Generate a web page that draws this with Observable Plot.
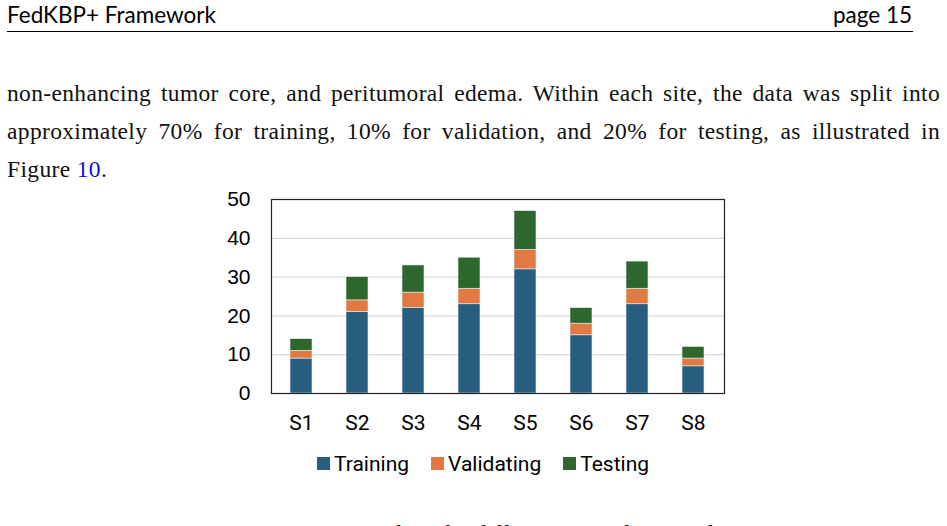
<!DOCTYPE html>
<html>
<head>
<meta charset="utf-8">
<script src="https://cdn.jsdelivr.net/npm/d3@7"></script>
<script src="https://cdn.jsdelivr.net/npm/@observablehq/plot@0.6"></script>
<style>
  html, body { margin: 0; padding: 0; background: #fff; }
  body { width: 947px; height: 526px; position: relative; overflow: hidden; }
  .hdr { position: absolute; top: 1px; font-family: "Lato", sans-serif; font-size: 22.5px; color: #000; line-height: 28px; }
  .rule { position: absolute; left: 7px; top: 31px; width: 906px; height: 1px; background: #000; }
  .para { position: absolute; left: 7px; width: 933px; font-family: "Liberation Serif", serif; font-size: 23.5px; letter-spacing: 0.35px; color: #111; line-height: 38px; }
  .para .l { text-align: justify; text-align-last: justify; white-space: nowrap; height: 38px; }
  .para .last { text-align: left; text-align-last: left; }
  .para a { color: #1010e0; text-decoration: none; }
  #chart { position: absolute; left: 0; top: 180px; }
  #legend { position: absolute; top: 447px; left: 0; width: 988px; display: flex; justify-content: center; }
  .lg-swatch { margin-right: 22px !important; font-family: "Roboto", sans-serif; font-size: 21px !important; color: #000; }
  .lg-swatch svg { margin-right: 4px !important; }
  .cap { position: absolute; top: 518px; left: 0; width: 947px; text-align: center; font-family: "Liberation Serif", serif; font-size: 23.5px; line-height: 30px; color: #111; }
</style>
</head>
<body>
<div class="hdr" style="left:7px;">FedKBP+ Framework</div>
<div class="hdr" style="right:35px;">page 15</div>
<div class="rule"></div>
<div class="para" style="top:74px;">
  <div class="l">non-enhancing tumor core, and peritumoral edema. Within each site, the data was split into</div>
  <div class="l">approximately 70% for training, 10% for validation, and 20% for testing, as illustrated in</div>
  <div class="l last">Figure <a>10</a>.</div>
</div>
<div id="chart"></div>
<div id="legend"></div>
<div class="cap">Figure 10: Case numbers for different sites of BraTS data.</div>
<script>
const sites = ["S1", "S2", "S3", "S4", "S5", "S6", "S7", "S8"];
const types = ["Training", "Validating", "Testing"];
const colors = ["#255e7e", "#e07a42", "#2e672d"];
const training = [9, 21, 22, 23, 32, 15, 23, 7];
const validating = [2, 3, 4, 4, 5, 3, 4, 2];
const testing = [3, 6, 7, 8, 10, 4, 7, 3];
const yTicks = [0, 10, 20, 30, 40, 50];
const gridTicks = [10, 20, 30, 40];

const series = [training, validating, testing];
const data = [];
sites.forEach((s, i) => {
  types.forEach((t, j) => data.push({site: s, type: t, value: series[j][i]}));
});

const plot = Plot.plot({
  width: 947,
  height: 260,
  marginLeft: 271,
  marginRight: 223,
  marginTop: 19,
  marginBottom: 47,
  x: {domain: sites, paddingInner: 0.6, paddingOuter: 0.3, label: null, tickSize: 0, tickPadding: 22},
  y: {domain: [0, 50], ticks: yTicks, label: null, tickSize: 0, tickPadding: 21},
  color: {domain: types, range: colors},
  style: {background: "transparent", overflow: "visible"},
  marks: [
    Plot.gridY(gridTicks, {stroke: "#d9d9d9", strokeOpacity: 1, strokeWidth: 1.2}),
    Plot.barY(data, {x: "site", y: "value", fill: "type", order: types, stroke: "#e8eef2", strokeWidth: 0.6}),
    Plot.frame({stroke: "#222", strokeWidth: 1.2}),
    Plot.axisY({ticks: yTicks, tickSize: 0, tickPadding: 21, fontSize: 21, fontFamily: "Liberation Sans", fill: "#000", label: null}),
    Plot.axisX({tickSize: 0, tickPadding: 22, fontSize: 21, fontFamily: "Roboto", fill: "#000", label: null})
  ]
});
document.getElementById("chart").appendChild(plot);

const legend = Plot.legend({
  color: {type: "ordinal", domain: types, range: colors},
  swatchSize: 13,
  className: "lg",
  style: {fontFamily: "Roboto", fontSize: "21px", color: "#000"}
});
document.getElementById("legend").appendChild(legend);
</script>
</body>
</html>
